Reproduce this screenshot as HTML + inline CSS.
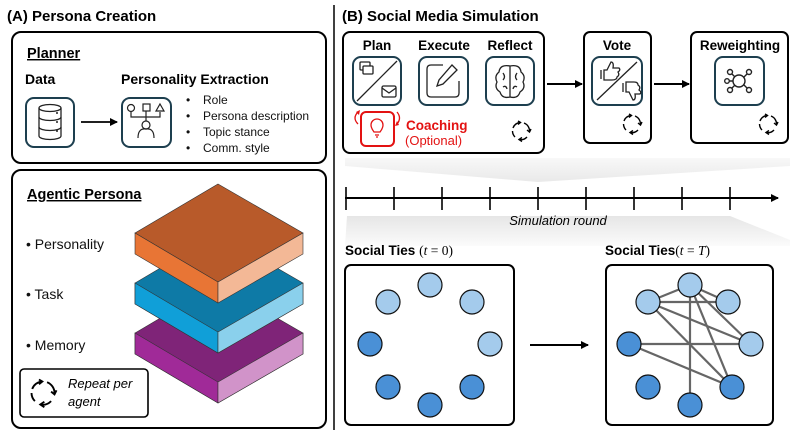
<!DOCTYPE html>
<html><head><meta charset="utf-8"><style>
html,body{margin:0;padding:0;background:#fff;}
svg{display:block;font-family:"Liberation Sans",sans-serif;}
.b{font-weight:bold;}
</style></head><body>
<svg width="793" height="434" viewBox="0 0 793 434" xmlns="http://www.w3.org/2000/svg">
<defs>
<linearGradient id="g1" x1="0" y1="0" x2="0" y2="1"><stop offset="0" stop-color="#f8f8f8"/><stop offset="1" stop-color="#e9e9e9"/></linearGradient>
<linearGradient id="g2" x1="0" y1="0" x2="0" y2="1"><stop offset="0" stop-color="#e6e6e6"/><stop offset="1" stop-color="#fbfbfb"/></linearGradient>
<marker id="ah" markerWidth="8" markerHeight="8" refX="7" refY="4" orient="auto" markerUnits="userSpaceOnUse"><path d="M0,0 L8,4 L0,8 z" fill="#000"/></marker>
<g id="rf" fill="none" stroke="#000" stroke-width="1.4">
<path d="M-8,-3 A8.5,8.5 0 0 1 -1,-8.5"/><path d="M-3,-10 L-0.5,-8.5 L-3,-6.5"/>
<path d="M3,-8 A8.5,8.5 0 0 1 8.5,0"/><path d="M10,-2 L8.5,1 L6,-1"/>
<path d="M6,6 A8.5,8.5 0 0 1 -2,8.5"/><path d="M1,10.5 L-2,8.5 L1,6.5"/>
<path d="M-6,6 A8.5,8.5 0 0 1 -8.5,0" /></g>
</defs>

<text x="7" y="21" class="b" font-size="15">(A) Persona Creation</text>
<rect x="12" y="32" width="314" height="131" rx="9" fill="#fff" stroke="#000" stroke-width="2"/>
<text x="27" y="58" class="b" font-size="14.5" text-decoration="underline">Planner</text>
<text x="25" y="84" class="b" font-size="14">Data</text>
<text x="121" y="84" class="b" font-size="14">Personality Extraction</text>
<rect x="26" y="98" width="48" height="49" rx="8" fill="#fff" stroke="#1d3f4f" stroke-width="2"/>
<g fill="none" stroke="#222" stroke-width="1.3">
<ellipse cx="50" cy="108" rx="11" ry="3.5"/><path d="M39,108 V136 A11,3.5 0 0 0 61,136 V108"/>
<path d="M39,117 A11,3.5 0 0 0 61,117"/><path d="M39,127 A11,3.5 0 0 0 61,127"/></g>
<circle cx="57" cy="122" r="1" fill="#222"/><circle cx="57" cy="131" r="1" fill="#222"/><circle cx="57" cy="113" r="1" fill="#222"/>
<line x1="81" y1="122" x2="117" y2="122" stroke="#000" stroke-width="1.8" marker-end="url(#ah)"/>
<rect x="122" y="98" width="49" height="49" rx="8" fill="#fff" stroke="#1d3f4f" stroke-width="2"/>
<g fill="none" stroke="#222" stroke-width="1.2">
<circle cx="131" cy="108" r="3.5"/><rect x="143" y="104" width="7" height="7"/><path d="M160,104 L164,111 L156,111 z"/>
<path d="M131,112 V117 H160 V112 M146,111 V121"/><circle cx="146" cy="125" r="4"/><path d="M138,138 Q138,128 146,129 Q154,128 154,138"/></g>
<g font-size="12" fill="#111">
<text x="186" y="104">•</text><text x="203" y="104">Role</text>
<text x="186" y="120">•</text><text x="203" y="120">Persona description</text>
<text x="186" y="136">•</text><text x="203" y="136">Topic stance</text>
<text x="186" y="152">•</text><text x="203" y="152">Comm. style</text></g>

<rect x="12" y="170" width="314" height="258" rx="9" fill="#fff" stroke="#000" stroke-width="2"/>
<text x="27" y="199" class="b" font-size="14.5" text-decoration="underline">Agentic Persona</text>
<g font-size="14" fill="#111">
<text x="26" y="249">• Personality</text><text x="26" y="299">• Task</text><text x="26" y="350">• Memory</text></g>
<g stroke="#333" stroke-width="0.6">
<polygon points="218,284 303,333 303,354 218,403 135,354 135,333" fill="#7f2478"/>
<polygon points="135,333 218,382 218,403 135,354" fill="#a02a98"/>
<polygon points="218,382 303,333 303,354 218,403" fill="#d193c9"/>
<polygon points="218,234 303,283 303,304 218,353 135,304 135,283" fill="#0e7aa6"/>
<polygon points="135,283 218,332 218,353 135,304" fill="#109fd8"/>
<polygon points="218,332 303,283 303,304 218,353" fill="#8ad0ec"/>
<polygon points="218,184 303,233 218,282 135,233" fill="#b85a2a"/>
<polygon points="135,233 218,282 218,303 135,254" fill="#e87535"/>
<polygon points="218,282 303,233 303,254 218,303" fill="#f3b896"/></g>
<rect x="20" y="369" width="128" height="48" rx="4" fill="#fff" stroke="#000" stroke-width="1.6"/>
<use href="#rf" transform="translate(43,393) scale(1.35)"/>
<text x="68" y="388" font-size="13" font-style="italic">Repeat per</text>
<text x="68" y="406" font-size="13" font-style="italic">agent</text>

<line x1="334" y1="5" x2="334" y2="430" stroke="#000" stroke-width="1.5"/>

<text x="342" y="21" class="b" font-size="15">(B) Social Media Simulation</text>
<polygon points="345,158 790,158 790,166 538,182 345,166" fill="url(#g1)"/>
<polygon points="347,216 730,216 790,240 790,246 345,246" fill="url(#g2)"/>
<rect x="343" y="32" width="201" height="121" rx="7" fill="#fff" stroke="#000" stroke-width="2"/>
<rect x="584" y="32" width="67" height="111" rx="6" fill="#fff" stroke="#000" stroke-width="2"/>
<rect x="691" y="32" width="97" height="111" rx="6" fill="#fff" stroke="#000" stroke-width="2"/>
<g class="b" font-size="13.5" text-anchor="middle">
<text x="377" y="50">Plan</text><text x="444" y="50">Execute</text><text x="510" y="50">Reflect</text>
<text x="617" y="50">Vote</text><text x="740" y="50">Reweighting</text></g>
<g fill="#fff" stroke="#1d3f4f" stroke-width="2">
<rect x="353" y="57" width="48" height="48" rx="8"/><rect x="419" y="57" width="49" height="48" rx="8"/><rect x="486" y="57" width="48" height="48" rx="8"/></g>
<g fill="none" stroke="#222" stroke-width="1.3">
<line x1="357" y1="101" x2="397" y2="61"/>
<rect x="360" y="62" width="10" height="8" rx="1"/><rect x="363" y="66" width="10" height="8" rx="1" fill="#fff"/>
<rect x="382" y="86" width="14" height="11" rx="1.5"/><path d="M382,88 L389,93 L396,88"/>
<path d="M443,65 H431 Q427,65 427,69 V93 Q427,97 431,97 H455 Q459,97 459,93 V81"/>
<path d="M452,65 L457,70 L443,84 L437,86 L439,80 z"/>
<path d="M510,66 Q500,64 499,72 Q494,76 497,82 Q494,88 500,92 Q502,99 510,97 Q518,99 520,92 Q526,88 523,82 Q526,76 521,72 Q520,64 510,66 z M510,66 V97 M503,73 Q506,77 503,80 M517,73 Q514,77 517,80 M503,87 Q506,85 507,89 M517,87 Q514,85 513,89"/></g>
<rect x="361" y="112" width="33" height="34" rx="5" fill="#fff" stroke="#e31212" stroke-width="2"/>
<g fill="none" stroke="#e31212" stroke-width="1.3">
<path d="M374,132 Q371,128 371,125 A6,6 0 0 1 383,125 Q383,128 380,132 z M375,135 H379 M376,137 H378"/>
<path d="M358,124 Q352,118 358,112" /><path d="M397,112 Q402,118 397,124"/></g>
<path d="M356,112 L360,110 L359,115 z M399,125 L395,126 L397,121 z" fill="#e31212"/>
<text x="406" y="130" class="b" font-size="13.5" fill="#e31212">Coaching</text>
<text x="405" y="145" font-size="13" fill="#e31212">(Optional)</text>
<use href="#rf" transform="translate(521,131)"/>

<line x1="547" y1="84" x2="582" y2="84" stroke="#000" stroke-width="2" marker-end="url(#ah)"/>
<rect x="592" y="57" width="50" height="48" rx="8" fill="#fff" stroke="#1d3f4f" stroke-width="2"/>
<g fill="none" stroke="#222" stroke-width="1.3">
<line x1="597" y1="100" x2="637" y2="62"/>
<path d="M601,70 V79 M604,70 H607 L611,62 Q614,62 613,68 H619 Q621,70 618,72 Q620,75 617,77 Q617,80 612,80 H604 z"/>
<path d="M623,83 V92 M626,92 H629 L633,100 Q636,100 635,94 H640 Q642,92 639,90 Q641,87 638,85 Q638,82 634,82 H626 z"/></g>
<use href="#rf" transform="translate(632,124)"/>
<line x1="654" y1="84" x2="689" y2="84" stroke="#000" stroke-width="2" marker-end="url(#ah)"/>
<rect x="715" y="57" width="49" height="48" rx="8" fill="#fff" stroke="#1d3f4f" stroke-width="2"/>
<g fill="none" stroke="#222" stroke-width="1.4">
<circle cx="739" cy="81" r="6"/><circle cx="730" cy="72" r="2.5"/><circle cx="749" cy="72" r="2.5"/><circle cx="730" cy="90" r="2.5"/><circle cx="749" cy="90" r="2.5"/><circle cx="727" cy="81" r="2.3"/>
<path d="M732,74 L735,77 M747,74 L744,77 M732,88 L735,85 M747,88 L744,85 M729,81 H733"/></g>
<use href="#rf" transform="translate(768,124)"/>

<line x1="345" y1="198" x2="778" y2="198" stroke="#000" stroke-width="2" marker-end="url(#ah)"/>
<g stroke="#000" stroke-width="1.6">
<line x1="346" y1="187" x2="346" y2="210"/><line x1="394" y1="187" x2="394" y2="210"/><line x1="442" y1="187" x2="442" y2="210"/><line x1="490" y1="187" x2="490" y2="210"/><line x1="538" y1="187" x2="538" y2="210"/><line x1="586" y1="187" x2="586" y2="210"/><line x1="634" y1="187" x2="634" y2="210"/><line x1="682" y1="187" x2="682" y2="210"/><line x1="730" y1="187" x2="730" y2="210"/></g>
<text x="558" y="225" font-size="13" font-style="italic" text-anchor="middle">Simulation round</text>

<text x="345" y="255" font-size="13.5"><tspan class="b">Social Ties</tspan> <tspan font-family="Liberation Serif">(<tspan font-style="italic">t</tspan> = 0)</tspan></text>
<text x="605" y="255" font-size="13.5"><tspan class="b">Social Ties</tspan><tspan font-family="Liberation Serif">(<tspan font-style="italic">t</tspan> = <tspan font-style="italic">T</tspan>)</tspan></text>
<rect x="345" y="265" width="169" height="160" rx="6" fill="#fff" stroke="#000" stroke-width="2"/>
<rect x="606" y="265" width="167" height="160" rx="6" fill="#fff" stroke="#000" stroke-width="2"/>
<line x1="530" y1="345" x2="588" y2="345" stroke="#000" stroke-width="2" marker-end="url(#ah)"/>
<g stroke="#666" stroke-width="2.2">
<line x1="690" y1="285" x2="648" y2="302"/><line x1="690" y1="285" x2="728" y2="302"/><line x1="690" y1="285" x2="751" y2="344"/><line x1="690" y1="285" x2="732" y2="387"/><line x1="690" y1="285" x2="690" y2="405"/>
<line x1="648" y1="302" x2="728" y2="302"/><line x1="648" y1="302" x2="751" y2="344"/><line x1="648" y1="302" x2="732" y2="387"/>
<line x1="629" y1="344" x2="751" y2="344"/><line x1="629" y1="344" x2="732" y2="387"/></g>
<g stroke="#111" stroke-width="1.2">
<g fill="#a4cbec"><circle cx="430" cy="285" r="12"/><circle cx="388" cy="302" r="12"/><circle cx="472" cy="302" r="12"/><circle cx="490" cy="344" r="12"/>
<circle cx="690" cy="285" r="12"/><circle cx="648" cy="302" r="12"/><circle cx="728" cy="302" r="12"/><circle cx="751" cy="344" r="12"/></g>
<g fill="#4a90d6"><circle cx="370" cy="344" r="12"/><circle cx="388" cy="387" r="12"/><circle cx="472" cy="387" r="12"/><circle cx="430" cy="405" r="12"/>
<circle cx="629" cy="344" r="12"/><circle cx="648" cy="387" r="12"/><circle cx="732" cy="387" r="12"/><circle cx="690" cy="405" r="12"/></g></g>
</svg>
</body></html>
